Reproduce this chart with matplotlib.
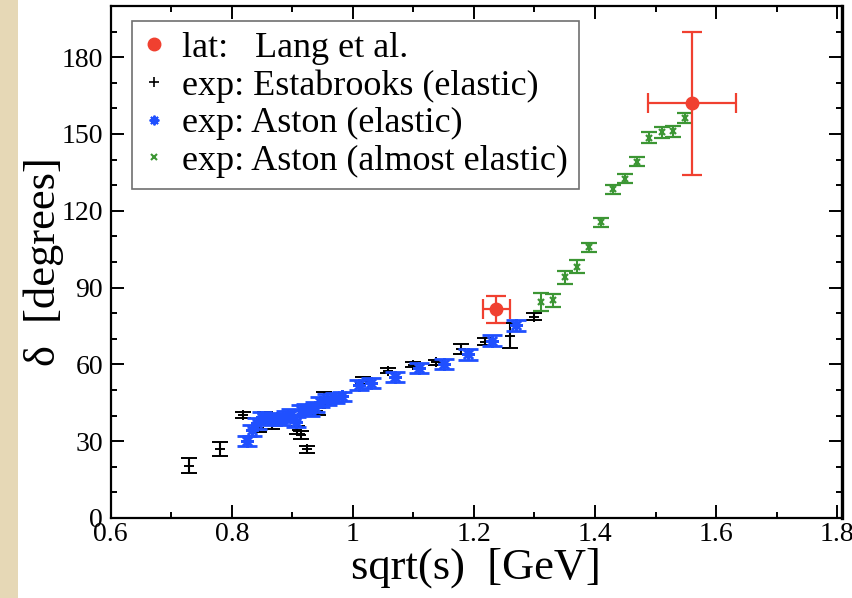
import matplotlib
matplotlib.use("Agg")
import matplotlib.pyplot as plt
from matplotlib.lines import Line2D
from matplotlib.patches import Rectangle

# Lattice points (Lang et al.)
lat_x = [1.237, 1.560]
lat_y = [81.6, 162.0]
lat_xerr = [0.022, 0.073]
lat_yerr = [5.3, 28.0]

# Estabrooks (elastic)
est_x = [0.730, 0.780, 0.819, 0.845, 0.855, 0.866, 0.908, 0.915, 0.925,
         0.943, 0.953, 1.016, 1.058, 1.100, 1.138, 1.179, 1.218, 1.260, 1.300]
est_y = [20.5, 26.8, 40.3, 35.2, 39.7, 36.4, 34.5, 32.5, 26.8,
         41.6, 46.6, 53.7, 57.6, 59.8, 60.9, 66.1, 68.8, 71.2, 78.7]
est_err = [2.9, 2.7, 1.2, 1.5, 1.8, 1.5, 1.5, 1.5, 1.5,
           1.5, 2.5, 1.4, 1.0, 1.0, 1.0, 2.0, 1.4, 4.9, 1.5]

# Aston (elastic)
ast_x = [0.825, 0.834, 0.842, 0.850, 0.858, 0.866, 0.874, 0.882, 0.890,
         0.898, 0.906, 0.914, 0.922, 0.930, 0.938, 0.946, 0.958, 0.970,
         0.982, 1.010, 1.030, 1.070, 1.110, 1.150, 1.190, 1.230, 1.270]
ast_y = [30.0, 34.3, 37.0, 39.4, 38.8, 38.3, 38.9, 38.3, 39.6,
         40.3, 37.6, 42.2, 42.4, 42.0, 43.5, 45.3, 46.3, 46.8,
         47.6, 52.0, 52.8, 55.0, 58.6, 60.1, 64.0, 69.3, 75.2]
ast_err = [2.0, 2.2, 2.2, 2.0, 2.0, 2.0, 2.0, 2.0, 2.0,
           2.2, 2.0, 2.0, 2.0, 2.0, 2.0, 2.0, 2.0, 2.0,
           1.8, 2.0, 2.0, 2.0, 2.0, 2.0, 2.2, 2.0, 2.3]

# Aston (almost elastic)
aae_x = [1.311, 1.330, 1.350, 1.370, 1.390, 1.410, 1.430, 1.450, 1.470,
         1.490, 1.511, 1.529, 1.548]
aae_y = [84.3, 85.0, 94.0, 98.2, 105.8, 115.5, 128.4, 132.6, 139.2,
         148.6, 150.6, 151.0, 156.1]
aae_err = [3.6, 2.5, 2.5, 2.5, 1.8, 1.8, 1.8, 1.8, 1.8,
           2.0, 2.0, 2.2, 2.0]

rot = "#f04030"
blau = "#2050ff"
gruen = "#3c9634"

plt.rcParams["font.family"] = ["Liberation Serif", "DejaVu Serif"]

fig = plt.figure(figsize=(8.53, 5.98), dpi=100)
fig.patches.append(Rectangle((0, 0), 18 / 853, 1, transform=fig.transFigure,
                             facecolor="#e6d8b6", edgecolor="none", zorder=0))
ax = fig.add_axes([0.1298, 0.1338, 0.8573, 0.8562])

ax.errorbar(est_x, est_y, yerr=est_err, fmt="+", color="black", ms=7, mew=1.4,
            elinewidth=1.5, capsize=6, capthick=1.8, zorder=3)
ax.errorbar(ast_x, ast_y, yerr=ast_err, fmt="none", ecolor=blau,
            elinewidth=1.6, capsize=7, capthick=2.0, zorder=4)
ax.plot(ast_x, ast_y, linestyle="none", marker=(8, 2, 0), color=blau,
        ms=9, mew=1.8, zorder=4)
ax.errorbar(aae_x, aae_y, yerr=aae_err, fmt="x", color=gruen, ms=5, mew=1.6,
            elinewidth=1.5, capsize=6, capthick=2.0, zorder=4)
ax.errorbar(lat_x, lat_y, xerr=lat_xerr, yerr=lat_yerr, fmt="o", color=rot,
            ms=9, elinewidth=1.6, capsize=7, capthick=1.6, zorder=5)

ax.set_xlim(0.6, 1.808)
ax.set_ylim(0, 200)
ax.set_xticks([0.6, 0.8, 1.0, 1.2, 1.4, 1.6, 1.8])
ax.set_xticklabels(["0.6", "0.8", "1", "1.2", "1.4", "1.6", "1.8"])
ax.set_xticks([0.7, 0.9, 1.1, 1.3, 1.5, 1.7], minor=True)
ax.set_yticks([0, 30, 60, 90, 120, 150, 180])
ax.set_yticks([10, 20, 40, 50, 70, 80, 100, 110, 130, 140, 160, 170, 190],
              minor=True)
ax.tick_params(which="both", direction="in", top=True, right=True,
               width=1.4, labelsize=20)
ax.tick_params(which="major", length=9.5)
ax.tick_params(which="minor", length=4.5)
ax.tick_params(axis="y", pad=5.5)
ax.tick_params(axis="x", pad=3)
for s in ax.spines.values():
    s.set_linewidth(1.6)
ax.spines["right"].set_linewidth(2.4)

ax.set_xlabel("sqrt(s)  [GeV]", fontsize=32, labelpad=0)
ax.set_ylabel("δ  [degrees]", fontsize=32, labelpad=-2)

griffe = [
    Line2D([], [], linestyle="none", marker="o", color=rot, ms=9),
    Line2D([], [], linestyle="none", marker="+", color="black", ms=7, mew=1.2),
    Line2D([], [], linestyle="none", marker=(8, 2, 0), color=blau, ms=7, mew=1.4),
    Line2D([], [], linestyle="none", marker="x", color=gruen, ms=5, mew=1.5),
]
namen = ["lat:   Lang et al.", "exp: Estabrooks (elastic)",
         "exp: Aston (elastic)", "exp: Aston (almost elastic)"]
leg = ax.legend(griffe, namen, loc="upper left", bbox_to_anchor=(0.029, 0.971),
                fontsize=26, fancybox=False, framealpha=1, edgecolor="#707070",
                handlelength=0.6, handletextpad=0.5, labelspacing=0.12,
                borderpad=0.3, borderaxespad=0, shadow=False)
leg.get_frame().set_linewidth(1.2)

fig.savefig("out.png", dpi=100)
